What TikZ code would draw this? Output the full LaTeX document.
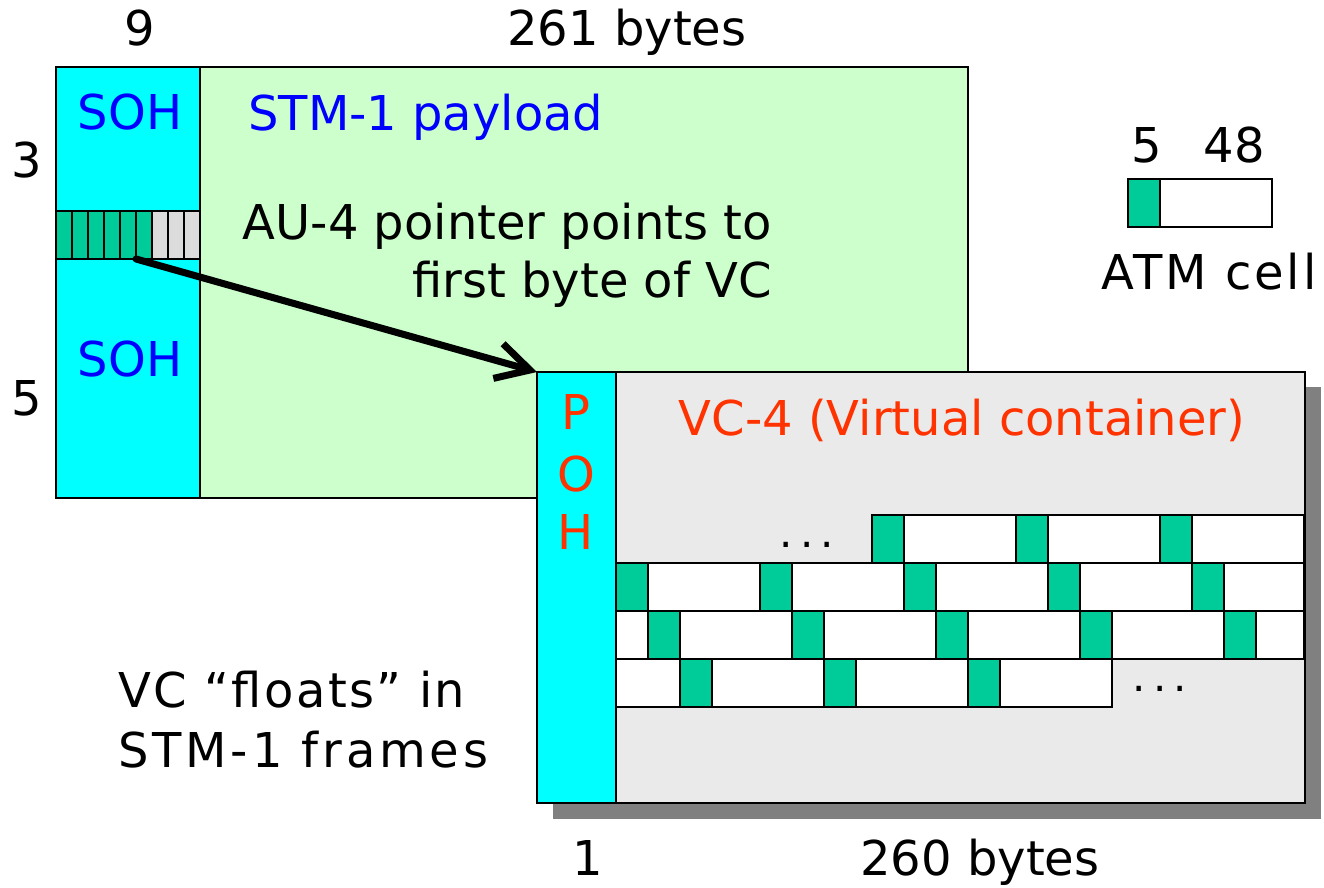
\documentclass[tikz,border=0pt]{standalone}
\usepackage{fontspec}
\setmainfont{DejaVu Sans}
\usetikzlibrary{arrows.meta}
\definecolor{soh}{HTML}{00FFFF}
\definecolor{payload}{HTML}{CCFFCC}
\definecolor{vcgray}{HTML}{EAEAEA}
\definecolor{hdr}{HTML}{00CC99}
\definecolor{ptrgray}{HTML}{DCDCDC}
\definecolor{shadowgray}{HTML}{808080}
\definecolor{ohblue}{HTML}{0000FF}
\definecolor{vcred}{HTML}{FF3300}
\begin{document}
\begin{tikzpicture}[x=1pt,y=-1pt,
  box/.style={draw=black,line width=1.8pt,inner sep=0pt,outer sep=0pt,anchor=north west},
  lbl/.style={font=\fontsize{48}{58}\selectfont,inner sep=0pt,anchor=base},
  wide/.style={font=\fontsize{48}{58}\selectfont\addfontfeature{LetterSpace=#1}},
  dots/.style={font=\fontsize{42}{48}\selectfont,inner sep=0pt,anchor=base},
  hcell/.style={box,fill=hdr,minimum width=32pt,minimum height=48pt},
  pcell/.style={box,fill=white,minimum height=48pt},
]
\useasboundingbox (0,0) rectangle (1324,888);

% STM-1 frame: payload area and section overhead column
\node[box,fill=payload,minimum width=912pt,minimum height=431pt] (stm) at (56,67) {};
\node[box,fill=soh,minimum width=144pt,minimum height=431pt] (sohcol) at (56,67) {};

% AU-4 pointer bytes
\foreach \i in {0,...,8}{
  \pgfmathtruncatemacro{\n}{\i+1}
  \ifnum\i<6 \def\pc{hdr}\else\def\pc{ptrgray}\fi
  \node[box,fill=\pc,minimum width=16pt,minimum height=48pt] (p\n) at ({56+16*\i},211) {};
}

% VC-4 with its shadow and path overhead column
\fill[shadowgray] (553,387) rectangle (1321,819);
\node[box,fill=vcgray,minimum width=768pt,minimum height=431pt] (vc) at (537,372) {};
\node[box,fill=soh,minimum width=79pt,minimum height=431pt] (poh) at (537,372) {};

% ATM cells packed into the VC payload
% row 1
\foreach \x [count=\k] in {872,1016,1160}{
  \node[hcell] (ha\k) at (\x,515) {};
  \node[pcell,minimum width=112pt] (ba\k) at (\x+32,515) {};
}
% row 2
\foreach \x [count=\k] in {616,760,904,1048}{
  \node[hcell] (hb\k) at (\x,563) {};
  \node[pcell,minimum width=112pt] (bb\k) at (\x+32,563) {};
}
\node[hcell] (hb5) at (1192,563) {};
\node[pcell,minimum width=80pt] (bb5) at (1224,563) {};
% row 3
\node[pcell,minimum width=32pt] (bc0) at (616,611) {};
\foreach \x [count=\k] in {648,792,936,1080}{
  \node[hcell] (hc\k) at (\x,611) {};
  \node[pcell,minimum width=112pt] (bc\k) at (\x+32,611) {};
}
\node[hcell] (hc5) at (1224,611) {};
\node[pcell,minimum width=48pt] (bc5) at (1256,611) {};
% row 4
\node[pcell,minimum width=64pt] (bd0) at (616,659) {};
\foreach \x [count=\k] in {680,824,968}{
  \node[hcell] (hd\k) at (\x,659) {};
  \node[pcell,minimum width=112pt] (bd\k) at (\x+32,659) {};
}
\node[dots] (dotsa) at (807,547) {.\kern7pt.\kern7pt.};
\node[dots] (dotsb) at (1160,691) {.\kern7pt.\kern7pt.};

% single ATM cell legend
\node[box,fill=white,minimum width=144pt,minimum height=48pt] (cellbody) at (1128,179) {};
\node[box,fill=hdr,minimum width=32pt,minimum height=48pt] (cellhdr) at (1128,179) {};

% labels
\node[lbl] (n9) at (140,46) {9};
\node[lbl] (n261) at (627,46) {261 bytes};
\node[lbl] (n3) at (27,177) {3};
\node[lbl] (n5) at (27,415) {5};
\node[lbl,text=ohblue] (soha) at (130,129) {SOH};
\node[lbl,text=ohblue] (sohb) at (130,376) {SOH};
\node[lbl,text=ohblue,anchor=base west] (pl) at (248,130) {STM-1 payload};
\node[lbl,anchor=base east] (au1) at (772,239) {AU-4 pointer points to};
\node[lbl,anchor=base east] (au2) at (772,297) {first byte of VC};
\node[lbl] (c5) at (1147,162) {5};
\node[lbl] (c48) at (1234,162) {48};
\node[lbl,wide=6] (atm) at (1209,289) {ATM cell};
\node[lbl,text=vcred] (vct) at (962,435) {VC-4 (Virtual container)};
\node[lbl,text=vcred] (ohp) at (576,429) {P};
\node[lbl,text=vcred] (oho) at (576,491) {O};
\node[lbl,text=vcred] (ohh) at (576,549) {H};
\node[lbl,wide=5,anchor=base west] (fl1) at (118,707) {VC “floats” in};
\node[lbl,wide=8,anchor=base west] (fl2) at (118,767) {STM-1 frames};
\node[lbl] (n1) at (588,875) {1};
\node[lbl] (n260) at (980,875) {260 bytes};

% pointer arrow
\draw[line width=7pt,line cap=round,-{Straight Barb[length=33pt,width=36pt]}]
  (p5.south east) -- (vc.north west);
\end{tikzpicture}
\end{document}
